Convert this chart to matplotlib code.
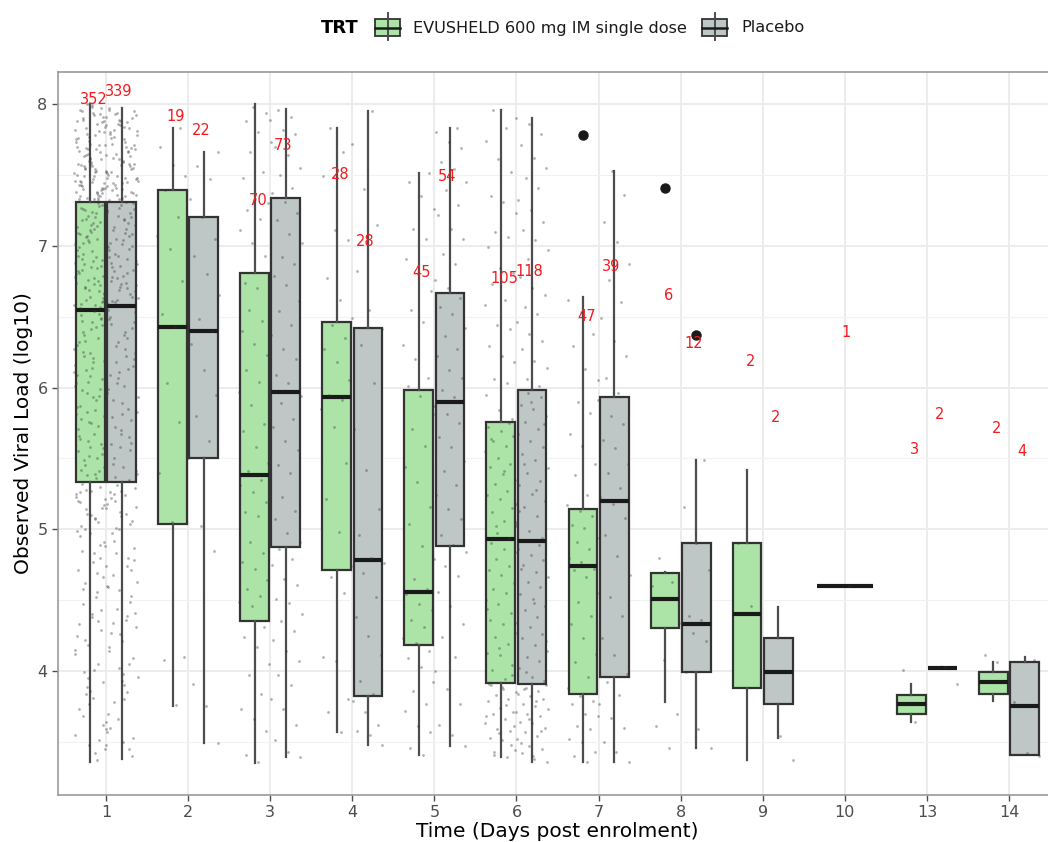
import matplotlib.pyplot as plt
import numpy as np
from matplotlib.patches import Rectangle
from matplotlib.lines import Line2D

days = ['1', '2', '3', '4', '5', '6', '7', '8', '9', '10', '13', '14']

# box statistics per day (log10 viral load), None where an arm has no data
evu_lo  = [3.36, 3.75, 3.35, 3.57, 3.41, 3.39, 3.36, 3.78, 3.37, 4.60, 3.64, 3.79]
evu_q1  = [5.33, 5.04, 4.35, 4.71, 4.18, 3.915, 3.84, 4.30, 3.88, 4.60, 3.70, 3.84]
evu_med = [6.55, 6.43, 5.38, 5.93, 4.56, 4.93, 4.74, 4.51, 4.40, 4.60, 3.77, 3.92]
evu_q3  = [7.31, 7.39, 6.81, 6.46, 5.98, 5.76, 5.14, 4.69, 4.90, 4.60, 3.83, 3.99]
evu_hi  = [8.00, 7.83, 8.00, 7.83, 7.51, 7.96, 6.64, 4.70, 5.42, 4.60, 3.91, 4.06]
evu_out = [[], [], [], [], [], [], [7.78], [7.41], [], [], [], []]

pbo_lo  = [3.38, 3.49, 3.39, 3.48, 3.47, 3.36, 3.36, 3.46, 3.53, None, 4.02, 3.41]
pbo_q1  = [5.33, 5.50, 4.875, 3.82, 4.88, 3.91, 3.96, 3.99, 3.77, None, 4.02, 3.41]
pbo_med = [6.575, 6.40, 5.97, 4.78, 5.90, 4.92, 5.20, 4.33, 3.99, None, 4.02, 3.75]
pbo_q3  = [7.31, 7.20, 7.34, 6.42, 6.67, 5.98, 5.93, 4.90, 4.23, None, 4.02, 4.06]
pbo_hi  = [7.97, 7.66, 7.965, 7.95, 7.83, 7.90, 7.53, 5.49, 4.45, None, 4.03, 4.10]
pbo_out = [[], [], [], [], [], [], [], [6.37], [], [], [], []]

# number of subjects and where the count is printed
evu_n = [352, 19, 70, 28, 45, 105, 47, 6, 2, 1, 3, 2]
pbo_n = [339, 22, 73, 28, 54, 118, 39, 12, 2, None, 2, 4]
evu_lab_y = [8.03, 7.915, 7.316, 7.506, 6.81, 6.77, 6.50, 6.65, 6.18, 6.385, 5.566, 5.714]
pbo_lab_y = [8.09, 7.81, 7.71, 7.03, 7.49, 6.815, 6.857, 6.307, 5.785, None, 5.81, 5.545]

# individual observations
evu_pts = [
    "7.33 7.95 7.41 7.62 7.88 7.37 7.54 7.71 7.99 7.46 7.35 7.68 7.82 7.52 7.40 7.91 7.58 7.76 7.32 7.64 7.85 7.49 "
    "7.43 7.97 7.60 7.73 7.38 7.56 7.80 7.45 7.67 7.93 7.34 7.51 7.78 7.42 7.87 7.61 7.70 7.36 7.55 7.84 7.47 7.96 "
    "7.39 7.65 7.75 7.53 7.89 7.44 7.59 7.33 7.81 7.69 7.48 7.92 7.57 7.37 7.74 7.50 7.86 7.63 7.41 7.98 7.35 7.66 "
    "7.79 7.46 7.54 7.90 7.40 7.72 7.58 7.34 7.83 7.52 7.94 7.45 7.61 7.77 7.38 7.68 7.49 7.88 7.56 7.43 7.71 8.00 "
    "6.58 7.12 6.83 7.29 6.64 6.97 7.05 6.71 7.22 6.89 6.56 7.17 6.76 7.01 6.92 7.26 6.61 6.85 7.09 6.68 7.19 6.95 "
    "6.73 7.27 6.60 7.03 6.80 7.14 6.87 6.66 7.24 6.99 6.57 7.07 6.78 7.20 6.91 6.63 7.11 6.82 7.30 6.70 6.98 7.16 "
    "6.59 6.86 7.04 6.74 7.23 6.94 6.67 7.10 6.81 7.28 6.62 7.00 6.77 7.18 6.90 6.69 7.13 6.84 7.25 6.65 6.96 7.08 "
    "6.72 7.21 6.88 6.58 7.02 6.79 7.15 6.93 6.75 7.06 "
    "5.35 6.21 5.78 6.49 5.52 6.03 5.91 6.37 5.44 6.14 5.66 6.52 5.83 6.27 5.39 5.98 6.44 5.58 6.09 5.73 6.33 5.47 "
    "6.18 5.87 6.48 5.62 6.01 5.36 6.25 5.80 6.41 5.55 5.94 6.12 5.69 6.54 5.42 6.06 5.76 6.30 5.50 6.22 5.89 6.46 "
    "5.64 5.99 5.38 6.16 5.84 6.39 5.57 6.08 5.71 6.35 5.45 6.28 5.93 6.51 5.60 6.04 5.81 6.43 5.49 6.19 5.75 6.32 "
    "5.41 5.96 6.11 5.67 6.47 5.53 6.24 5.86 "
    "3.37 4.62 5.21 3.81 4.95 5.30 4.18 3.55 5.08 4.47 3.92 5.27 4.71 4.05 5.14 3.64 4.83 5.02 4.29 3.48 5.25 4.56 "
    "3.99 5.17 4.38 3.73 4.89 5.11 4.12 3.42 5.32 4.66 3.86 4.99 5.05 4.22 3.59 4.77 5.19 4.43 3.95 5.23 4.52 3.68 "
    "4.91 5.10 4.33 3.51 5.28 4.60 4.01 4.85 5.15 3.77 4.25 4.69 5.00 3.45 4.40 5.26 4.80 3.89 4.15 5.07 4.58 3.62 "
    "4.97 5.20 4.35 3.84 4.74",
    "3.76 4.08 4.10 5.05 5.40 5.76 6.03 6.30 6.43 6.52 6.75 6.98 7.07 7.20 7.39 7.49 7.57 7.70 7.83",
    "3.36 3.41 3.58 3.66 3.73 3.84 3.97 4.05 4.17 4.24 4.31 4.46 4.49 4.53 4.58 4.64 4.72 4.77 4.83 4.91 5.03 5.09 "
    "5.12 5.19 5.26 5.31 5.35 5.41 5.47 5.58 5.69 5.74 5.88 5.97 6.04 6.12 6.23 6.31 6.40 6.47 6.55 6.62 6.70 6.74 "
    "6.93 7.02 7.11 7.19 7.25 7.30 7.33 7.48 7.52 7.66 7.73 7.80 7.88 7.94 7.98",
    "3.57 3.71 3.80 4.07 4.10 4.55 4.66 4.74 4.98 5.21 5.47 5.72 5.85 5.91 5.95 6.05 6.18 6.27 6.35 6.44 6.49 6.62 "
    "6.77 7.04 7.11 7.49 7.66 7.83",
    "3.41 3.46 3.57 3.61 3.72 3.77 3.86 3.92 4.03 4.09 4.14 4.20 4.23 4.31 4.36 4.43 4.47 4.54 4.58 4.65 4.79 4.88 "
    "5.04 5.16 5.33 5.44 5.59 5.71 5.81 5.94 6.01 6.07 6.20 6.30 6.46 6.55 6.68 6.80 6.91 7.05 7.12 7.26 7.35 7.45 7.51",
    "3.94 4.01 4.04 4.11 4.13 4.19 4.24 4.27 4.33 4.36 4.41 4.47 4.50 4.55 4.58 4.62 4.68 4.71 4.74 4.79 4.84 4.86 "
    "4.90 3.97 4.16 4.44 3.39 3.43 3.44 3.51 3.53 3.58 3.59 3.63 3.66 3.70 3.71 3.74 3.79 3.80 3.83 3.85 3.87 3.90 "
    "3.48 3.56 3.68 3.76 3.41 3.61 3.89 3.91 4.94 4.97 5.04 5.06 5.12 5.15 5.21 5.24 5.27 5.32 5.35 5.39 5.44 5.46 "
    "5.50 5.55 5.59 5.62 5.66 5.69 5.72 5.75 5.02 5.18 5.41 5.64 5.78 5.84 5.95 6.03 6.06 6.18 6.22 6.29 6.41 6.44 "
    "6.58 6.62 6.73 6.81 6.84 6.99 7.06 7.10 7.23 7.31 7.35 7.52 7.61 7.74 7.83 7.96",
    "3.36 3.40 3.43 3.50 3.52 3.59 3.61 3.68 3.70 3.77 3.79 3.82 3.88 3.96 4.06 4.12 4.23 4.33 4.39 4.49 4.55 4.66 "
    "4.71 4.72 4.77 4.80 4.86 4.91 4.94 5.01 5.03 5.09 5.13 5.17 5.24 5.38 5.46 5.59 5.67 5.82 5.90 6.05 6.13 6.29 "
    "6.38 6.53 6.62",
    "3.46 3.61 3.70 4.08 4.60 4.63 4.80",
    "4.46 4.90",
    "4.60",
    "3.64 4.01",
    "4.06 4.11",
]

pbo_pts = [
    "7.36 7.84 7.52 7.69 7.33 7.91 7.45 7.77 7.58 7.40 7.96 7.63 7.49 7.81 7.35 7.72 7.55 7.88 7.42 7.66 7.93 7.47 "
    "7.60 7.79 7.38 7.86 7.53 7.70 7.44 7.95 7.57 7.32 7.83 7.65 7.48 7.75 7.39 7.90 7.61 7.51 7.87 7.43 7.68 7.34 "
    "7.80 7.56 7.94 7.46 7.73 7.62 7.37 7.85 7.50 7.67 7.41 7.92 7.59 7.76 7.54 7.89 7.64 7.31 7.82 7.71 7.44 7.97 "
    "7.58 7.36 7.78 7.48 "
    "6.61 7.08 6.86 7.25 6.70 6.94 7.15 6.79 7.02 6.66 7.21 6.90 6.74 7.11 6.83 7.29 6.59 6.98 7.05 6.72 7.18 6.88 "
    "6.64 7.27 6.96 6.81 7.13 6.68 7.01 6.92 7.23 6.77 6.63 7.09 6.85 7.30 6.71 6.99 7.16 6.60 6.89 7.04 6.75 7.20 "
    "6.93 6.67 7.12 6.82 7.26 6.73 6.97 7.07 6.62 6.87 7.19 6.78 7.00 6.69 7.24 6.91 "
    "5.37 6.24 5.81 6.50 5.56 6.07 5.93 6.39 5.46 6.15 5.70 6.55 5.85 6.29 5.41 6.01 6.45 5.61 6.11 5.75 6.35 5.50 "
    "6.20 5.89 6.48 5.65 6.03 5.39 6.27 5.79 6.42 5.58 5.96 6.13 5.72 6.53 5.44 6.09 5.77 6.32 5.53 6.22 5.91 6.46 "
    "5.67 5.99 5.35 6.18 5.83 6.37 5.60 "
    "3.40 4.57 5.18 3.85 4.92 5.29 4.21 3.60 5.04 4.44 3.96 5.24 4.68 4.09 5.12 3.70 4.80 5.01 4.31 3.50 5.22 4.53 "
    "4.02 5.15 4.36 3.78 4.87 5.09 4.14 3.45 5.31 4.63 3.90 4.97 5.06 4.26 3.57 4.74 5.20 4.41 3.98 5.26 4.49 3.66 "
    "4.88 5.11 4.34 3.53 5.27 4.59 4.05 4.83 5.16 3.80 4.27 4.71 5.00 3.48 4.39 5.25 4.78 3.93 4.17",
    "3.49 3.75 3.91 4.85 5.02 5.50 5.62 5.80 5.95 6.12 6.31 6.40 6.48 6.65 6.80 6.93 7.05 7.20 7.33 7.47 7.56 7.66",
    "3.39 3.43 3.51 3.62 3.73 3.80 3.90 3.97 4.07 4.14 4.22 4.28 4.35 4.40 4.48 4.51 4.61 4.65 4.75 4.79 4.86 4.91 "
    "4.97 5.07 5.13 5.23 5.30 5.40 5.45 5.56 5.62 5.72 5.78 5.89 5.94 6.03 6.09 6.20 6.27 6.37 6.44 6.54 6.61 6.72 "
    "6.79 6.87 6.92 7.02 7.08 7.18 7.23 7.31 7.37 7.41 7.50 7.55 7.64 7.70 7.79 7.82 7.89 7.91 7.96",
    "3.48 3.55 3.58 3.62 3.71 3.79 3.84 3.93 4.11 4.25 4.38 4.52 4.69 4.76 4.80 4.96 5.14 5.42 5.71 6.03 6.30 6.41 "
    "6.55 6.82 7.15 7.40 7.72 7.95",
    "3.47 3.55 3.62 3.77 3.87 4.00 4.10 4.24 4.33 4.46 4.56 4.67 4.74 4.84 4.89 4.96 5.07 5.14 5.24 5.31 5.41 5.48 "
    "5.58 5.65 5.75 5.81 5.87 5.93 5.98 6.07 6.12 6.22 6.27 6.36 6.42 6.52 6.57 6.63 6.70 6.76 6.87 6.94 7.05 7.12 "
    "7.22 7.29 7.39 7.45 7.54 7.59 7.69 7.73 7.80 7.83",
    "3.36 3.38 3.42 3.45 3.47 3.52 3.54 3.57 3.60 3.63 3.64 3.68 3.70 3.73 3.75 3.77 3.80 3.82 3.84 3.86 3.88 3.90 "
    "3.40 3.49 3.58 3.66 3.71 3.79 3.87 3.93 3.96 4.02 4.07 4.10 4.14 4.18 4.23 4.26 4.31 4.34 4.38 4.43 4.46 4.51 "
    "4.54 4.59 4.63 4.66 4.70 4.75 4.78 4.82 4.86 4.89 3.99 4.21 4.48 4.72 4.94 4.99 5.05 5.09 5.16 5.20 5.25 5.31 "
    "5.34 5.40 5.43 5.49 5.53 5.58 5.62 5.67 5.71 5.76 5.80 5.85 5.88 5.93 5.96 5.02 5.28 5.46 5.74 5.90 5.13 6.01 "
    "6.06 6.14 6.19 6.27 6.33 6.38 6.46 6.52 6.57 6.65 6.70 6.78 6.83 6.91 6.97 7.04 7.11 7.17 7.25 7.32 7.41 7.48 "
    "7.55 7.62 7.71 7.79 7.86 7.90",
    "3.36 3.43 3.50 3.60 3.67 3.77 3.83 3.92 3.98 4.11 4.23 4.39 4.52 4.68 4.81 4.96 5.08 5.18 5.23 5.29 5.40 5.46 "
    "5.57 5.63 5.74 5.80 5.91 5.96 6.07 6.22 6.33 6.49 6.60 6.76 6.87 7.03 7.17 7.36 7.53",
    "3.46 3.59 3.99 4.21 4.27 4.34 4.36 4.39 4.71 4.90 5.16 5.49",
    "3.37 3.54",
    "",
    "3.91 4.03",
    "3.40 3.42 3.78 4.08",
]

green = '#ABE4A6'
grey = '#BEC7C6'

fig = plt.figure(figsize=(10.48, 8.42), dpi=100)
ax = fig.add_axes([58 / 1048, 1 - 795 / 842, (1057 - 58) / 1048, (795 - 72) / 842])

xpos = np.arange(len(days))
dodge = 0.19
bw = 0.35
jit = 0.2
golden = 0.6180339887


def box_stats(lo, q1, med, q3, hi, out):
    return dict(whislo=lo, q1=q1, med=med, q3=q3, whishi=hi, fliers=out)


def draw_arm(lo, q1, med, q3, hi, out, pts, other_lo, sign, fill):
    stats, pos, widths, clouds = [], [], [], []
    for i in range(len(days)):
        if lo[i] is None:
            continue
        if other_lo[i] is None:
            c, w = xpos[i], 0.68
        else:
            c, w = xpos[i] + sign * dodge, bw
        stats.append(box_stats(lo[i], q1[i], med[i], q3[i], hi[i], out[i]))
        pos.append(c)
        widths.append(w)
        vals = np.array(pts[i].split(), dtype=float)
        k = np.arange(1, len(vals) + 1) + (0 if sign < 0 else 7)
        clouds.append((c + (np.mod(k * golden, 1.0) - 0.5) * 2 * jit, vals))
    ax.bxp(stats, positions=pos, widths=widths, patch_artist=True,
           showcaps=False, showfliers=True,
           boxprops=dict(facecolor=fill, edgecolor='#333333', linewidth=1.6),
           whiskerprops=dict(color='#4D4D4D', linewidth=1.6),
           medianprops=dict(color='#1A1A1A', linewidth=3.0),
           flierprops=dict(marker='o', markerfacecolor='#1A1A1A', markeredgecolor='#1A1A1A',
                           markersize=6.5),
           zorder=2)
    for xs, ys in clouds:
        ax.scatter(xs, ys, s=4, c='#333333', alpha=0.38, linewidths=0, zorder=3)


draw_arm(evu_lo, evu_q1, evu_med, evu_q3, evu_hi, evu_out, evu_pts, pbo_lo, -1, green)
draw_arm(pbo_lo, pbo_q1, pbo_med, pbo_q3, pbo_hi, pbo_out, pbo_pts, evu_lo, 1, grey)

# subject counts
for i in range(len(days)):
    if evu_n[i] is not None:
        off = 0.01 if pbo_n[i] is None else -0.15
        ax.text(xpos[i] + off, evu_lab_y[i], str(evu_n[i]), color='#F41A1E',
                fontsize=10.5, ha='center', va='center', zorder=4)
    if pbo_n[i] is not None:
        ax.text(xpos[i] + 0.155, pbo_lab_y[i], str(pbo_n[i]), color='#F41A1E',
                fontsize=10.5, ha='center', va='center', zorder=4)

ax.set_xlim(-0.585, 11.585)
ax.set_ylim(3.125, 8.226)
ax.set_xticks(xpos)
ax.set_xticklabels(days)
ax.set_yticks([4, 5, 6, 7, 8])
ax.set_yticks(np.arange(3.5, 8.0, 1.0), minor=True)
ax.grid(True, which='major', color='#EBEBEB', linewidth=1.3, zorder=0)
ax.grid(True, which='minor', axis='y', color='#F2F2F2', linewidth=0.8, zorder=0)
ax.set_axisbelow(True)
ax.tick_params(axis='both', which='major', labelsize=11.5, labelcolor='#4D4D4D',
               color='#4D4D4D', length=4, width=1)
ax.tick_params(axis='y', which='minor', length=0)
for s in ax.spines.values():
    s.set_color('#999999')
    s.set_linewidth(1.2)

ax.set_ylabel('Observed Viral Load (log10)', fontsize=14.5, labelpad=3)
ax.set_xlabel('Time (Days post enrolment)', fontsize=14.5, labelpad=1)


# legend across the top
def fx(px):
    return px / 1048


def fy(py):
    return 1 - py / 842


fig.text(fx(340), fy(28), 'TRT', fontsize=13, fontweight='bold', ha='center', va='center')
for x0, fill, label, tx in [(375, green, 'EVUSHELD 600 mg IM single dose', 413),
                            (702, grey, 'Placebo', 741)]:
    xc = x0 + 12.5
    fig.add_artist(Line2D([fx(xc), fx(xc)], [fy(13), fy(40)], color='#4D4D4D',
                          linewidth=1.4, transform=fig.transFigure))
    fig.add_artist(Rectangle((fx(x0), fy(36)), fx(25), 17 / 842, facecolor=fill,
                             edgecolor='#333333', linewidth=1.3, transform=fig.transFigure))
    fig.add_artist(Line2D([fx(x0), fx(x0 + 25)], [fy(27.5), fy(27.5)], color='#1A1A1A',
                          linewidth=1.8, transform=fig.transFigure))
    fig.text(fx(tx), fy(28), label, fontsize=11.6, color='#1A1A1A', ha='left', va='center')

fig.savefig('out.png', dpi=100)
